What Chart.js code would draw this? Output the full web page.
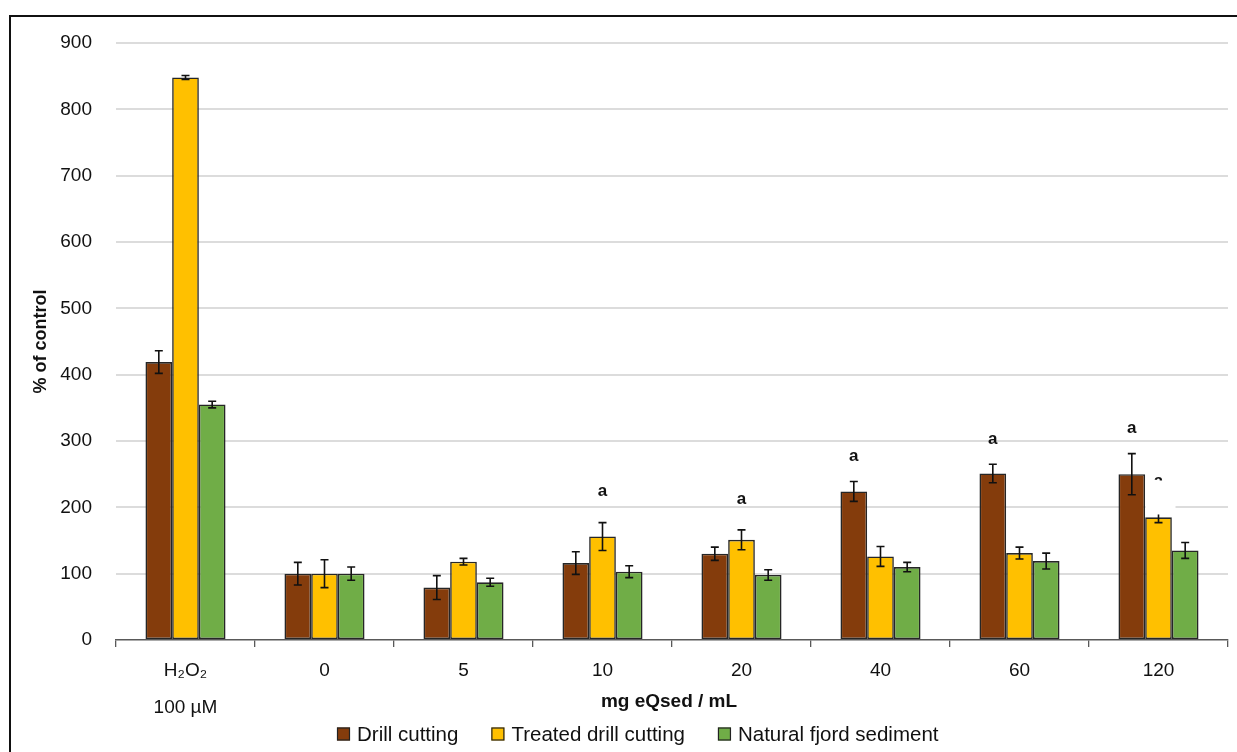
<!DOCTYPE html>
<html>
<head>
<meta charset="utf-8">
<script src="https://cdn.jsdelivr.net/npm/chart.js@4.4.1/dist/chart.umd.min.js"></script>
<style>
  html, body { margin: 0; padding: 0; background: #ffffff; }
  #wrap { position: relative; width: 1237px; height: 752px; overflow: hidden; }
  canvas { display: block; }
</style>
</head>
<body>
<div id="wrap"><canvas id="c" width="1237" height="752"></canvas></div>
<script>
// ---- data ----
const categories = [['H₂O₂', '100 µM'], '0', '5', '10', '20', '40', '60', '120'];
const seriesNames = ['Drill cutting', 'Treated drill cutting', 'Natural fjord sediment'];
const drillValues    = [419, 100, 79, 116, 130, 224, 251, 250];
const drillErrors    = [17, 17, 18, 17, 10, 15, 14, 31];
const treatedValues  = [848, 100, 118, 156, 151, 126, 131, 185];
const treatedErrors  = [3, 21, 5, 21, 15, 15, 9, 8];
const naturalValues  = [355, 100, 87, 103, 98, 110, 119, 135];
const naturalErrors  = [5, 10, 6, 9, 8, 7, 12, 12];
const drillSig   = ['', '', '', '', '', 'a', 'a', 'a'];
const treatedSig = ['', '', '', 'a', 'a', '', '', 'a'];
const naturalSig = ['', '', '', '', '', '', '', ''];
const yTicks = [0, 100, 200, 300, 400, 500, 600, 700, 800, 900];
const yTitle = '% of control';
const xTitle = 'mg eQsed / mL';

// ---- styles ----
const FONT = '"Liberation Sans", Arial, Helvetica, sans-serif';
const colors = ['#843C0C', '#FFC000', '#70AD47'];
const sigOffsets = [25, 31, 28];

const errorSets = [drillErrors, treatedErrors, naturalErrors];
const sigSets = [drillSig, treatedSig, naturalSig];

const extras = {
  id: 'extras',
  beforeDraw(chart) {
    const ctx = chart.ctx;
    ctx.save();
    ctx.fillStyle = '#ffffff';
    ctx.fillRect(0, 0, chart.width, chart.height);
    ctx.restore();
  },
  afterDatasetsDraw(chart) {
    const ctx = chart.ctx;
    const y = chart.scales.y;
    ctx.save();
    chart.data.datasets.forEach((ds, di) => {
      const meta = chart.getDatasetMeta(di);
      const errs = errorSets[di];
      meta.data.forEach((bar, i) => {
        const v = ds.data[i], e = errs[i];
        const yt = y.getPixelForValue(v + e);
        const yb = y.getPixelForValue(v - e);
        ctx.strokeStyle = '#111111';
        ctx.lineWidth = 1.6;
        ctx.beginPath();
        ctx.moveTo(bar.x, yt); ctx.lineTo(bar.x, yb);
        ctx.moveTo(bar.x - 4, yt); ctx.lineTo(bar.x + 4, yt);
        ctx.moveTo(bar.x - 4, yb); ctx.lineTo(bar.x + 4, yb);
        ctx.stroke();
        const s = sigSets[di][i];
        if (s) {
          const ly = yt - sigOffsets[di];
          ctx.fillStyle = '#111111';
          ctx.font = 'bold 17px ' + FONT;
          ctx.textAlign = 'center';
          ctx.textBaseline = 'middle';
          ctx.fillText(s, bar.x, ly);
          // the last label of the treated series is partly hidden behind a white box in the original
          if (di === 1 && i === meta.data.length - 1) {
            ctx.fillStyle = '#ffffff';
            ctx.fillRect(bar.x - 13, ly - 0.5, 30, yt - ly + 3);
          }
        }
      });
    });
    ctx.restore();
  },
  afterDraw(chart) {
    const ctx = chart.ctx;
    const area = chart.chartArea;
    ctx.save();
    // frame
    ctx.strokeStyle = '#111111';
    ctx.lineWidth = 2;
    ctx.beginPath();
    ctx.moveTo(10, chart.height + 5);
    ctx.lineTo(10, 16);
    ctx.lineTo(chart.width + 5, 16);
    ctx.stroke();
    // y title
    ctx.fillStyle = '#111111';
    ctx.font = 'bold 18px ' + FONT;
    ctx.textAlign = 'center';
    ctx.textBaseline = 'middle';
    ctx.translate(41, (area.top + area.bottom) / 2 + 0);
    ctx.rotate(-Math.PI / 2);
    ctx.fillText(yTitle, 0, 0);
    ctx.restore();
    // x title
    ctx.save();
    ctx.fillStyle = '#111111';
    ctx.font = 'bold 19px ' + FONT;
    ctx.textAlign = 'center';
    ctx.textBaseline = 'middle';
    ctx.fillText(xTitle, (area.left + area.right) / 2 - 3, 702);
    // legend
    ctx.font = '20.5px ' + FONT;
    ctx.textAlign = 'left';
    let x = 337;
    const ly = 734;
    seriesNames.forEach((name, i) => {
      ctx.fillStyle = colors[i];
      ctx.fillRect(x, ly - 6.5, 13, 13);
      ctx.strokeStyle = '#222222';
      ctx.lineWidth = 1.2;
      ctx.strokeRect(x + 0.5, ly - 6, 12, 12);
      ctx.fillStyle = '#111111';
      ctx.fillText(name, x + 20, ly + 1);
      x += 20 + ctx.measureText(name).width + 33;
    });
    ctx.restore();
  }
};

new Chart(document.getElementById('c'), {
  type: 'bar',
  data: {
    labels: categories,
    datasets: [
      { label: seriesNames[0], data: drillValues, backgroundColor: colors[0] },
      { label: seriesNames[1], data: treatedValues, backgroundColor: colors[1] },
      { label: seriesNames[2], data: naturalValues, backgroundColor: colors[2] }
    ]
  },
  options: {
    responsive: false,
    devicePixelRatio: 1,
    animation: false,
    events: [],
    datasets: {
      bar: {
        borderColor: '#262626',
        borderWidth: 1.6,
        borderSkipped: false,
        categoryPercentage: 0.576,
        barPercentage: 1
      }
    },
    layout: { padding: { left: 0, right: 9, top: 43, bottom: 0 } },
    plugins: { legend: { display: false }, tooltip: { enabled: false } },
    scales: {
      x: {
        type: 'category',
        offset: true,
        afterFit(scale) { scale.height = 112; },
        grid: { offset: true, drawOnChartArea: false, drawTicks: true, tickLength: 7, color: '#595959', lineWidth: 1.3 },
        border: { display: true, color: '#595959', width: 1.5 },
        ticks: {
          color: '#111111',
          padding: 5,
          maxRotation: 0,
          autoSkip: false,
          font: { family: FONT, size: 19, lineHeight: 37 / 19 }
        }
      },
      y: {
        min: 0,
        max: 900,
        afterFit(scale) { scale.width = 116; },
        afterBuildTicks(scale) { scale.ticks = yTicks.map(v => ({ value: v })); },
        grid: {
          drawTicks: false,
          lineWidth: 2,
          color: (c) => (c.tick && c.tick.value === 0) ? 'rgba(0,0,0,0)' : '#dcdcdc'
        },
        border: { display: false },
        ticks: {
          color: '#111111',
          padding: 24,
          font: { family: FONT, size: 19 }
        }
      }
    }
  },
  plugins: [extras]
});
</script>
</body>
</html>
